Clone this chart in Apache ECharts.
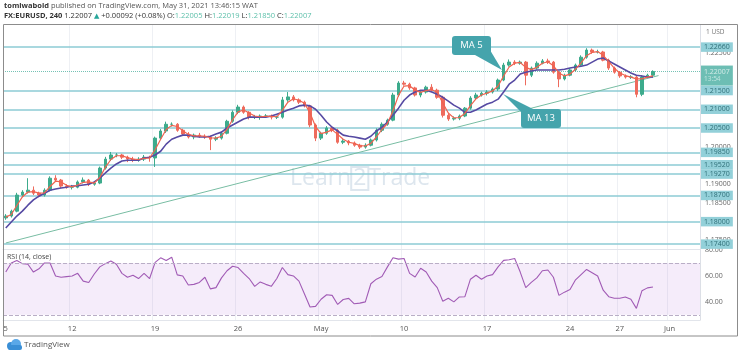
<!DOCTYPE html>
<html><head><meta charset="utf-8">
<script src="https://cdn.jsdelivr.net/npm/echarts@6/dist/echarts.min.js"></script>
<style>html,body{margin:0;padding:0;background:#fff}#c{width:740px;height:357px}</style>
</head><body><div id="c"></div>
<script>
// ---------- data ----------
const tradingDays = ['Apr 6','Apr 7','Apr 8','Apr 9','Apr 12','Apr 13','Apr 14','Apr 15','Apr 16',
  'Apr 19','Apr 20','Apr 21','Apr 22','Apr 23','Apr 26','Apr 27','Apr 28','Apr 29','Apr 30',
  'May 3','May 4','May 5','May 6','May 7','May 10','May 11','May 12','May 13','May 14',
  'May 17','May 18','May 19','May 20','May 21','May 24','May 25','May 26','May 27','May 28',
  'May 31','Jun 1','Jun 2'];
const sessions = ['00:00','08:00','16:00'];

const opens = [1.1810,1.1815,1.1828,1.1871,1.1879,1.1884,1.1876,1.1871,1.1884,1.1916,
 1.1911,1.1895,1.1892,1.1892,1.1906,1.1911,1.1900,1.1903,1.1943,1.1967,
 1.1978,1.1978,1.1972,1.1967,1.1964,1.1967,1.1972,1.1970,1.2023,1.2042,
 1.2060,1.2060,1.2044,1.2034,1.2026,1.2031,1.2028,1.2026,1.2020,1.2023,
 1.2036,1.2068,1.2092,1.2106,1.2092,1.2079,1.2079,1.2082,1.2082,1.2079,
 1.2079,1.2125,1.2133,1.2125,1.2119,1.2109,1.2058,1.2023,1.2036,1.2050,
 1.2044,1.2012,1.2015,1.2010,1.2004,1.1999,1.2004,1.2018,1.2044,1.2060,
 1.2071,1.2138,1.2170,1.2167,1.2157,1.2138,1.2146,1.2159,1.2151,1.2132,
 1.2084,1.2074,1.2076,1.2082,1.2103,1.2130,1.2138,1.2143,1.2146,1.2154,
 1.2178,1.2218,1.2226,1.2223,1.2226,1.2191,1.2210,1.2223,1.2229,1.2226,
 1.2199,1.2181,1.2191,1.2205,1.2218,1.2239,1.2258,1.2253,1.2253,1.2231,
 1.2210,1.2199,1.2189,1.2186,1.2186,1.2140,1.2186,1.2191];
const closes = [1.1815,1.1828,1.1871,1.1879,1.1884,1.1876,1.1871,1.1884,1.1916,1.1911,
 1.1895,1.1892,1.1892,1.1906,1.1911,1.1900,1.1903,1.1943,1.1967,1.1978,
 1.1978,1.1972,1.1967,1.1964,1.1967,1.1972,1.1970,1.2023,1.2042,1.2060,
 1.2060,1.2044,1.2034,1.2026,1.2031,1.2028,1.2026,1.2020,1.2023,1.2036,
 1.2068,1.2092,1.2106,1.2092,1.2079,1.2079,1.2082,1.2082,1.2079,1.2079,
 1.2125,1.2133,1.2125,1.2119,1.2109,1.2058,1.2023,1.2036,1.2050,1.2044,
 1.2012,1.2015,1.2010,1.2004,1.1999,1.2004,1.2018,1.2044,1.2060,1.2071,
 1.2138,1.2170,1.2167,1.2157,1.2138,1.2146,1.2159,1.2151,1.2132,1.2084,
 1.2074,1.2076,1.2082,1.2103,1.2130,1.2138,1.2143,1.2146,1.2154,1.2178,
 1.2218,1.2226,1.2223,1.2226,1.2191,1.2210,1.2223,1.2229,1.2226,1.2199,
 1.2181,1.2191,1.2205,1.2218,1.2239,1.2258,1.2253,1.2253,1.2231,1.2210,
 1.2199,1.2189,1.2186,1.2186,1.2140,1.2186,1.2191,1.2201];
const highs = [1.1820,1.1832,1.1877,1.1884,1.1916,1.1894,1.1880,1.1889,1.1921,1.1924,
 1.1914,1.1900,1.1898,1.1910,1.1918,1.1914,1.1908,1.1947,1.1973,1.1986,
 1.1983,1.1981,1.1976,1.1973,1.1972,1.1978,1.1976,1.2027,1.2047,1.2067,
 1.2065,1.2063,1.2048,1.2039,1.2035,1.2037,1.2033,1.2030,1.2028,1.2040,
 1.2072,1.2097,1.2112,1.2110,1.2095,1.2085,1.2086,1.2087,1.2086,1.2083,
 1.2133,1.2146,1.2138,1.2129,1.2123,1.2112,1.2062,1.2040,1.2055,1.2053,
 1.2048,1.2020,1.2018,1.2014,1.2008,1.2009,1.2022,1.2049,1.2065,1.2075,
 1.2144,1.2175,1.2176,1.2171,1.2160,1.2151,1.2163,1.2167,1.2155,1.2136,
 1.2089,1.2081,1.2086,1.2106,1.2135,1.2144,1.2147,1.2151,1.2158,1.2182,
 1.2224,1.2233,1.2231,1.2230,1.2229,1.2214,1.2228,1.2234,1.2235,1.2229,
 1.2202,1.2195,1.2209,1.2222,1.2244,1.2263,1.2262,1.2259,1.2256,1.2235,
 1.2214,1.2202,1.2193,1.2191,1.2190,1.2191,1.2195,1.2204];
const lows = [1.1805,1.1811,1.1825,1.1866,1.1875,1.1871,1.1865,1.1867,1.1881,1.1907,
 1.1890,1.1888,1.1886,1.1889,1.1902,1.1895,1.1896,1.1900,1.1939,1.1962,
 1.1972,1.1967,1.1959,1.1959,1.1960,1.1962,1.1960,1.1946,1.2019,1.2037,
 1.2054,1.2040,1.2029,1.2022,1.2020,1.2024,1.2021,1.1991,1.2015,1.2019,
 1.2033,1.2064,1.2087,1.2088,1.2073,1.2074,1.2072,1.2078,1.2073,1.2074,
 1.2075,1.2120,1.2121,1.2114,1.2105,1.2052,1.2015,1.2018,1.2032,1.2039,
 1.2008,1.2007,1.2004,1.2000,1.1994,1.1995,1.2001,1.2014,1.2039,1.2056,
 1.2068,1.2133,1.2163,1.2152,1.2134,1.2132,1.2142,1.2146,1.2128,1.2078,
 1.2069,1.2070,1.2071,1.2079,1.2099,1.2125,1.2134,1.2137,1.2142,1.2149,
 1.2175,1.2214,1.2218,1.2219,1.2164,1.2186,1.2206,1.2220,1.2221,1.2195,
 1.2159,1.2177,1.2188,1.2201,1.2215,1.2235,1.2248,1.2249,1.2228,1.2205,
 1.2195,1.2184,1.2182,1.2181,1.2132,1.2135,1.2183,1.2185];
const ma5 = [1.1812,1.1819,1.1843,1.1866,1.1879,1.1880,1.1876,1.1877,1.1894,1.1908,
 1.1906,1.1897,1.1893,1.1898,1.1905,1.1906,1.1903,1.1918,1.1945,1.1966,
 1.1976,1.1976,1.1971,1.1967,1.1966,1.1969,1.1970,1.1992,1.2020,1.2046,
 1.2057,1.2054,1.2043,1.2033,1.2029,1.2029,1.2028,1.2024,1.2023,1.2028,
 1.2047,1.2072,1.2093,1.2098,1.2090,1.2082,1.2080,1.2081,1.2081,1.2080,
 1.2097,1.2119,1.2128,1.2124,1.2116,1.2090,1.2054,1.2035,1.2039,1.2045,
 1.2033,1.2020,1.2012,1.2009,1.2003,1.2002,1.2009,1.2026,1.2046,1.2062,
 1.2096,1.2137,1.2162,1.2163,1.2151,1.2145,1.2150,1.2153,1.2145,1.2117,
 1.2090,1.2077,1.2078,1.2089,1.2110,1.2128,1.2138,1.2143,1.2149,1.2162,
 1.2189,1.2213,1.2223,1.2225,1.2212,1.2206,1.2212,1.2223,1.2227,1.2216,
 1.2197,1.2189,1.2194,1.2207,1.2224,1.2243,1.2252,1.2254,1.2244,1.2227,
 1.2210,1.2197,1.2190,1.2186,1.2181,1.2181,1.2186,1.2189];
const ma13 = [1.1783,1.1799,1.1815,1.1828,1.1844,1.1858,1.1868,1.1876,1.1884,1.1887,
 1.1890,1.1892,1.1895,1.1896,1.1898,1.1900,1.1906,1.1916,1.1930,1.1943,
 1.1954,1.1962,1.1964,1.1964,1.1964,1.1970,1.1972,1.1978,1.1988,1.2007,
 1.2020,1.2026,1.2031,1.2031,1.2028,1.2026,1.2026,1.2028,1.2034,1.2039,
 1.2050,1.2058,1.2066,1.2074,1.2079,1.2079,1.2079,1.2079,1.2082,1.2087,
 1.2092,1.2098,1.2103,1.2109,1.2111,1.2109,1.2100,1.2084,1.2066,1.2052,
 1.2042,1.2031,1.2028,1.2026,1.2023,1.2020,1.2028,1.2042,1.2052,1.2066,
 1.2084,1.2103,1.2124,1.2138,1.2146,1.2151,1.2151,1.2146,1.2140,1.2132,
 1.2122,1.2111,1.2103,1.2092,1.2092,1.2098,1.2106,1.2114,1.2119,1.2127,
 1.2146,1.2167,1.2178,1.2194,1.2199,1.2202,1.2205,1.2205,1.2205,1.2205,
 1.2205,1.2207,1.2210,1.2213,1.2215,1.2218,1.2226,1.2234,1.2237,1.2229,
 1.2221,1.2213,1.2205,1.2197,1.2191,1.2189,1.2186,1.2186];
const rsi = [63,70,72,69.5,69,63,65.5,70,70,60,
 59,59.5,60,62,56,55,61.5,67,69.5,71.5,
 69,62,59,60.5,58,62,58,70.5,74,72,
 74.5,60.8,60,53,53.5,55,59,50,51,58.5,
 64,67.5,66.5,62,58,52,55.4,53.5,52,58,
 66.5,61,60,56,46,36,36.5,42,45.5,45,
 38,41.8,42.7,38.5,39,40,54,57.5,59.5,67,
 74,73,73.5,62,59.2,66,63,56,51,40.5,
 42.8,40,43.8,44,57.5,60.5,57.5,60,61,67,
 72,72.5,73.5,63,51,55,58.5,64,64.6,59,
 45,47.5,49.5,57,61,65,62.5,60,49,44,
 42.8,42.8,43.8,42,35,48.5,50.8,51.5];

const levelLines = [1.2266,1.215,1.21,1.205,1.1985,1.1952,1.1927,1.187,1.18,1.174];
const priceAxisLabels = [1.175,1.185,1.19,1.20,1.225];
const rsiAxisLabels = [40,60,80];
const rsiBand = [30,70];
const lastPrice = 1.22007;
const trendStart = [0, 1.1743];
const trendEnd = [118, 1.2190];
const xTickIndex = [0,12,27,42,57,72,87,102,111,120];
const xTickText = ['5','12','19','26','May','10','17','24','27','Jun'];

// ---------- chart ----------
const FONT = '"Open Sans", "DejaVu Sans", sans-serif';
const categories = tradingDays.flatMap(d => sessions.map(s => d + ' ' + s)).slice(0, 126);
const candles = closes.map((c, i) => [opens[i], c, lows[i], highs[i]]);
const tickSet = new Set(xTickIndex);
const LEVEL = '#8ccbd5';
const UP = '#3dab8c', DOWN = '#ee6b5d';

const levelData = levelLines.map(v => ({
  yAxis: v,
  lineStyle: {color: LEVEL, width: 1.6, type: 'solid'},
  label: {show: true, position: 'end', distance: 1, formatter: v.toFixed(5),
    backgroundColor: '#93d0d9', color: '#2f6f78', fontSize: 7, padding: [1.5, 3, 1, 3], fontFamily: FONT}
}));

const chart = echarts.init(document.getElementById('c'));
chart.setOption({
  animation: false,
  textStyle: {fontFamily: FONT},
  grid: [
    {left: 3, top: 25, width: 697, height: 224},
    {left: 3, top: 249, width: 697, height: 71}
  ],
  xAxis: [
    {type: 'category', gridIndex: 0, data: categories,
      axisLine: {show: true, lineStyle: {color: '#e2e5eb'}}, axisTick: {show: false},
      axisLabel: {show: false},
      splitLine: {show: true, interval: (i) => tickSet.has(i), lineStyle: {color: '#eef0f4'}}},
    {type: 'category', gridIndex: 1, data: categories,
      axisLine: {show: true, lineStyle: {color: '#e2e5eb'}}, axisTick: {show: false},
      axisLabel: {show: true, interval: (i) => tickSet.has(i),
        formatter: (v, i) => xTickText[xTickIndex.indexOf(i)] || '',
        color: '#555', fontSize: 7.5, margin: 5},
      splitLine: {show: true, interval: (i) => tickSet.has(i), lineStyle: {color: '#eef0f4'}}}
  ],
  yAxis: [
    {type: 'value', gridIndex: 0, position: 'right', min: 1.1727, max: 1.2325, scale: true,
      axisLine: {show: true, lineStyle: {color: '#dcdfe6'}}, axisTick: {show: false},
      splitLine: {show: false},
      axisLabel: {customValues: priceAxisLabels, formatter: v => v.toFixed(5), color: '#666', fontSize: 7, margin: 5}},
    {type: 'value', gridIndex: 1, position: 'right', min: 26, max: 80.8,
      axisLine: {show: true, lineStyle: {color: '#dcdfe6'}}, axisTick: {show: false},
      splitLine: {show: false},
      axisLabel: {customValues: rsiAxisLabels, formatter: v => v.toFixed(2), color: '#666', fontSize: 7, margin: 5}}
  ],
  series: [
    {type: 'candlestick', name: 'EURUSD', xAxisIndex: 0, yAxisIndex: 0, data: candles, barWidth: 3,
      itemStyle: {color: UP, color0: DOWN, borderColor: UP, borderColor0: DOWN, borderWidth: 1},
      z: 3,
      markLine: {symbol: ['none', 'none'], silent: true, animation: false, z: 2, precision: 6,
        data: levelData.concat([
          [{coord: [categories[trendStart[0]], trendStart[1]], lineStyle: {color: '#78bda3', width: 1, type: 'solid'}, label: {show: false}},
           {coord: [categories[trendEnd[0]], trendEnd[1]]}],
          {yAxis: lastPrice, lineStyle: {color: '#3aa896', width: 1, type: 'dotted', opacity: 0.7},
            label: {show: true, position: 'end', distance: 1, offset: [0, 4],
              formatter: '{a|' + lastPrice.toFixed(5) + '}\n{b|13:54}',
              backgroundColor: '#2fa394', padding: [2, 3, 2, 3],
              rich: {a: {color: '#fff', fontSize: 7, lineHeight: 8, fontFamily: FONT},
                     b: {color: '#e6f7f4', fontSize: 6.5, lineHeight: 8, fontFamily: FONT}}}}
        ])}
    },
    {type: 'line', name: 'MA 13', xAxisIndex: 0, yAxisIndex: 0, data: ma13, symbol: 'none',
      lineStyle: {color: '#564aa3', width: 1.6}, z: 4},
    {type: 'line', name: 'MA 5', xAxisIndex: 0, yAxisIndex: 0, data: ma5, symbol: 'none',
      lineStyle: {color: '#f0624f', width: 1.2}, z: 5},
    {type: 'line', name: 'RSI', xAxisIndex: 1, yAxisIndex: 1, data: rsi, symbol: 'none',
      lineStyle: {color: '#a15bb5', width: 1.1}, z: 4,
      markArea: {silent: true, itemStyle: {color: 'rgba(186,120,220,0.14)'},
        data: [[{yAxis: rsiBand[0]}, {yAxis: rsiBand[1]}]]},
      markLine: {symbol: ['none', 'none'], silent: true, label: {show: false}, precision: 4,
        lineStyle: {color: '#b9aec6', type: 'dashed', width: 1},
        data: rsiBand.map(v => ({yAxis: v}))}}
  ],
  graphic: [
    {type: 'rect', shape: {x: 3.5, y: 24.5, width: 734, height: 311.5}, style: {fill: 'none', stroke: '#8c8c8c', lineWidth: 1}, z: 100},
    {type: 'text', left: 4, top: 2, style: {text: '{b|tomiwabold} published on TradingView.com, May 31, 2021 13:46:15 WAT',
      fill: '#555', fontSize: 7.5, fontFamily: FONT,
      rich: {b: {fontWeight: 'bold', fill: '#333', fontSize: 7.5, fontFamily: FONT}}}},
    {type: 'text', left: 4, top: 12, style: {text: '{b|FX:EURUSD, 240} 1.22007 {g|▲} +0.00092 (+0.08%) O:{v|1.22005} H:{v|1.22019} L:{v|1.21850} C:{v|1.22007}',
      fill: '#333', fontSize: 7.5, fontFamily: FONT,
      rich: {b: {fontWeight: 'bold', fill: '#333', fontSize: 7.5, fontFamily: FONT},
             g: {fill: '#26a69a', fontSize: 7, fontFamily: FONT},
             v: {fill: '#5bbfa9', fontSize: 7.5, fontFamily: FONT}}}},
    {type: 'text', left: 706, top: 29, style: {text: '1 USD', fill: '#777', fontSize: 6.5, fontFamily: FONT}},
    {type: 'text', left: 7, top: 253, style: {text: 'RSI (14, close)', fill: '#444', fontSize: 7, fontFamily: FONT}},
    {type: 'text', left: 290, top: 166, z: 1, style: {text: '{a|Learn}{b|2}{a|Trade}',
      rich: {a: {fill: '#dde6ee', fontSize: 23, fontFamily: FONT},
             b: {fill: '#dde6ee', fontSize: 23, fontFamily: FONT, borderColor: '#dde6ee', borderWidth: 2, padding: [0, 2, 0, 2]}}}},
    {type: 'polygon', shape: {points: [[475, 55], [487, 45], [502, 70]]}, style: {fill: '#45a4ac'}, z: 50},
    {type: 'rect', shape: {x: 452, y: 36, width: 39, height: 19, r: 3}, style: {fill: '#45a4ac'}, z: 50},
    {type: 'text', x: 471.5, y: 45.5, style: {text: 'MA 5', fill: '#fff', fontSize: 9.5, fontFamily: FONT, align: 'center', verticalAlign: 'middle'}, z: 51},
    {type: 'polygon', shape: {points: [[522, 113], [535, 110], [503, 94]]}, style: {fill: '#45a4ac'}, z: 50},
    {type: 'rect', shape: {x: 521, y: 109, width: 40, height: 19, r: 3}, style: {fill: '#45a4ac'}, z: 50},
    {type: 'text', x: 541, y: 118.5, style: {text: 'MA 13', fill: '#fff', fontSize: 9.5, fontFamily: FONT, align: 'center', verticalAlign: 'middle'}, z: 51},
    {type: 'circle', shape: {cx: 11, cy: 346, r: 4}, style: {fill: '#3a8fd6'}},
    {type: 'circle', shape: {cx: 16, cy: 344, r: 5}, style: {fill: '#5aa8e8'}},
    {type: 'rect', shape: {x: 8, y: 345, width: 14, height: 5, r: 2}, style: {fill: '#3a8fd6'}},
    {type: 'text', left: 24, top: 341, style: {text: 'TradingView', fill: '#555', fontSize: 8, fontFamily: FONT}}
  ]
});
</script>
</body></html>
